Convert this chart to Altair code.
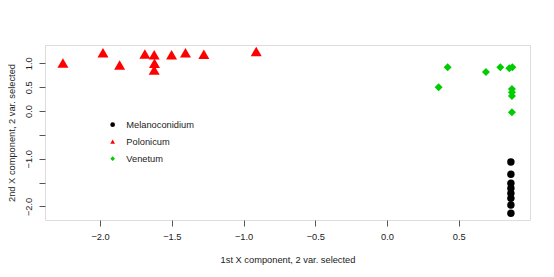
import altair as alt
import pandas as pd

species = ["Melanoconidium", "Polonicum", "Venetum"]

mel_x = [0.863, 0.863, 0.863, 0.863, 0.863, 0.863, 0.863, 0.863]
mel_y = [-1.069, -1.327, -1.516, -1.621, -1.726, -1.831, -1.971, -2.145]

pol_x = [-2.259, -1.980, -1.864, -1.688, -1.623, -1.621, -1.623, -1.502, -1.405, -1.277, -0.912]
pol_y = [1.006, 1.222, 0.964, 1.195, 1.180, 1.000, 0.860, 1.180, 1.222, 1.189, 1.250]

ven_x = [0.422, 0.359, 0.689, 0.789, 0.852, 0.873, 0.870, 0.870, 0.870, 0.870]
ven_y = [0.916, 0.497, 0.818, 0.916, 0.895, 0.916, 0.461, 0.392, 0.314, -0.028]

x_ticks = [-2.0, -1.5, -1.0, -0.5, 0.0, 0.5]
y_ticks = [-2.0, -1.5, -1.0, -0.5, 0.0, 0.5, 1.0]

rows = []
for name, xs, ys in [(species[0], mel_x, mel_y), (species[1], pol_x, pol_y), (species[2], ven_x, ven_y)]:
    for a, b in zip(xs, ys):
        rows.append({"x": a, "y": b, "species": name})
df = pd.DataFrame(rows)

FONT = "Liberation Sans"
FS = 9.3
AXC = "#555555"

x_enc = alt.X("x:Q",
              scale=alt.Scale(domain=[-2.384, 0.996], nice=False, zero=False),
              axis=alt.Axis(values=x_ticks, format=".1f", title="1st X component, 2 var. selected",
                            grid=False, domain=False, tickSize=6, tickColor=AXC,
                            labelPadding=6, labelFontSize=FS, labelFont=FONT, labelColor="#222",
                            titleFontSize=FS, titleFont=FONT, titleFontWeight="normal", titleColor="#222",
                            titleBaseline="middle", titleY=39, labelFlush=False))
y_enc = alt.Y("y:Q",
              scale=alt.Scale(domain=[-2.285, 1.384], nice=False, zero=False),
              axis=alt.Axis(values=y_ticks, format=".1f", title="2nd X component, 2 var. selected",
                            labelExpr="(datum.value == -0.5 || datum.value == -1.5) ? '' : datum.label",
                            grid=False, domain=False, tickSize=6, tickColor=AXC,
                            labelAngle=270, labelAlign="center", labelBaseline="bottom",
                            labelPadding=6, labelFontSize=FS, labelFont=FONT, labelColor="#222",
                            titleFontSize=FS, titleFont=FONT, titleFontWeight="normal", titleColor="#222",
                            titleBaseline="middle", titleX=-34, labelFlush=False))
leg = dict(title=None, orient="none", legendX=63, legendY=75,
           symbolSize=22, rowPadding=7, labelFontSize=FS, labelFont=FONT,
           labelColor="#222", labelOffset=9, symbolStrokeWidth=0)
color_enc = alt.Color("species:N",
                      scale=alt.Scale(domain=species, range=["#000000", "#FF0000", "#00CD00"]),
                      legend=alt.Legend(**leg))
shape_enc = alt.Shape("species:N",
                      scale=alt.Scale(domain=species, range=["circle", "triangle-up", "diamond"]),
                      legend=alt.Legend(**leg))

base = alt.Chart(df).encode(x=x_enc, y=y_enc, color=color_enc, shape=shape_enc)

sizes = {species[0]: 55, species[1]: 121, species[2]: 64}
layers = [base.transform_filter(alt.datum.species == s).mark_point(filled=True, opacity=1, size=sizes[s])
          for s in species]

chart = alt.layer(*layers).properties(
    width=485, height=175,
    autosize="none",
    padding={"left": 37, "top": 37, "right": 16, "bottom": 52},
).configure_view(stroke=AXC, strokeWidth=1).configure(background="white")

chart.save("out.html", embed_options={"renderer": "svg", "actions": False})
